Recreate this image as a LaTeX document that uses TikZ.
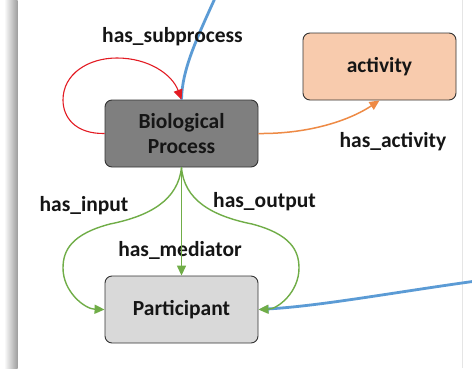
\documentclass[tikz,border=0pt]{standalone}
\usepackage{fontspec}
\setmainfont{Carlito}
\usetikzlibrary{arrows.meta,positioning}

\definecolor{redrel}{HTML}{E31B23}
\definecolor{orangerel}{HTML}{EE8A45}
\definecolor{greenrel}{HTML}{70AD47}
\definecolor{bluerel}{HTML}{5B9BD5}
\definecolor{actfill}{HTML}{F8CBAD}
\definecolor{bpfill}{HTML}{7F7F7F}
\definecolor{partfill}{HTML}{D9D9D9}
\definecolor{ink}{HTML}{151515}

\tikzset{
  classbox/.style={draw=black!80, line width=0.9pt, rounded corners=7pt,
    minimum width=153pt, minimum height=67pt, inner sep=0pt,
    font=\fontsize{21.5}{25}\selectfont\bfseries, text=ink, align=center},
  rellabel/.style={font=\fontsize{21.5}{24}\selectfont\bfseries, text=ink,
    inner sep=0pt, anchor=base},
  tip/.style={-{Triangle[length=10pt,width=9pt]}},
  redline/.style={draw=redrel, line width=1.1pt, tip},
  orangeline/.style={draw=orangerel, line width=1.5pt, tip},
  greenline/.style={draw=greenrel, line width=1.4pt, tip},
  blueline/.style={draw=bluerel, line width=2.8pt}
}

\begin{document}
\begin{tikzpicture}[x=1pt,y=-1pt]
  \useasboundingbox (0,0) rectangle (472,368);
  \clip (0,0) rectangle (472,368);

  % sheet with its shadow on the left
  \fill[white] (0,0) rectangle (472,368);
  \shade[left color=white, right color=black!38] (4,0) rectangle (17.5,368);
  \draw[black!10, line width=0.6pt] (462,0) -- (462,368);

  % classes
  \node[classbox, fill=bpfill]   (bp)   at (181.5,133.5) {Biological\\Process};
  \node[classbox, fill=actfill]  (act)  at (379.5,66.5)  {activity};
  \node[classbox, fill=partfill] (part) at (181.5,309.5) {Participant};

  % outside ends of the blue links
  \coordinate (topend) at (216,-4);
  \coordinate (rightend) at (476,281);

  % blue links (behind the labels)
  \draw[blueline] (topend) .. controls (196,40) and (182,70) .. (bp.north);
  \draw[blueline, -{Triangle[length=10pt,width=7pt]}]
    (rightend) .. controls (390,293) and (320,306) .. (part.east);

  % relation labels
  \node[rellabel] (lsub) at (172.5,42)  {has\_subprocess};
  \node[rellabel] (lact) at (393,147)   {has\_activity};
  \node[rellabel] (lin)  at (84,211)    {has\_input};
  \node[rellabel] (lout) at (264.5,207) {has\_output};
  \node[rellabel] (lmed) at (180,256)   {has\_mediator};

  % has_subprocess self-loop
  \draw[redline] (bp.west)
    .. controls (75,134) and (63,117) .. (63,100)
    .. controls (63,74) and (88,58) .. (117,58)
    .. controls (148,58) and (172,74) .. (bp.north);

  % has_activity
  \draw[orangeline] (bp.east) .. controls (310,134) and (350,120) .. (act.south);

  % has_mediator
  \draw[greenline] (bp.south) -- (part.north);
  % has_input
  \draw[greenline] (bp.south)
    .. controls (178,200) and (150,216) .. (110,224)
    .. controls (72,234) and (63,250) .. (63,268)
    .. controls (63,292) and (85,309) .. (part.west);
  % has_output
  \draw[greenline] (bp.south)
    .. controls (184,200) and (212,216) .. (252,224)
    .. controls (290,234) and (299,250) .. (299,268)
    .. controls (299,292) and (278,309) .. (part.east);
\end{tikzpicture}
\end{document}
